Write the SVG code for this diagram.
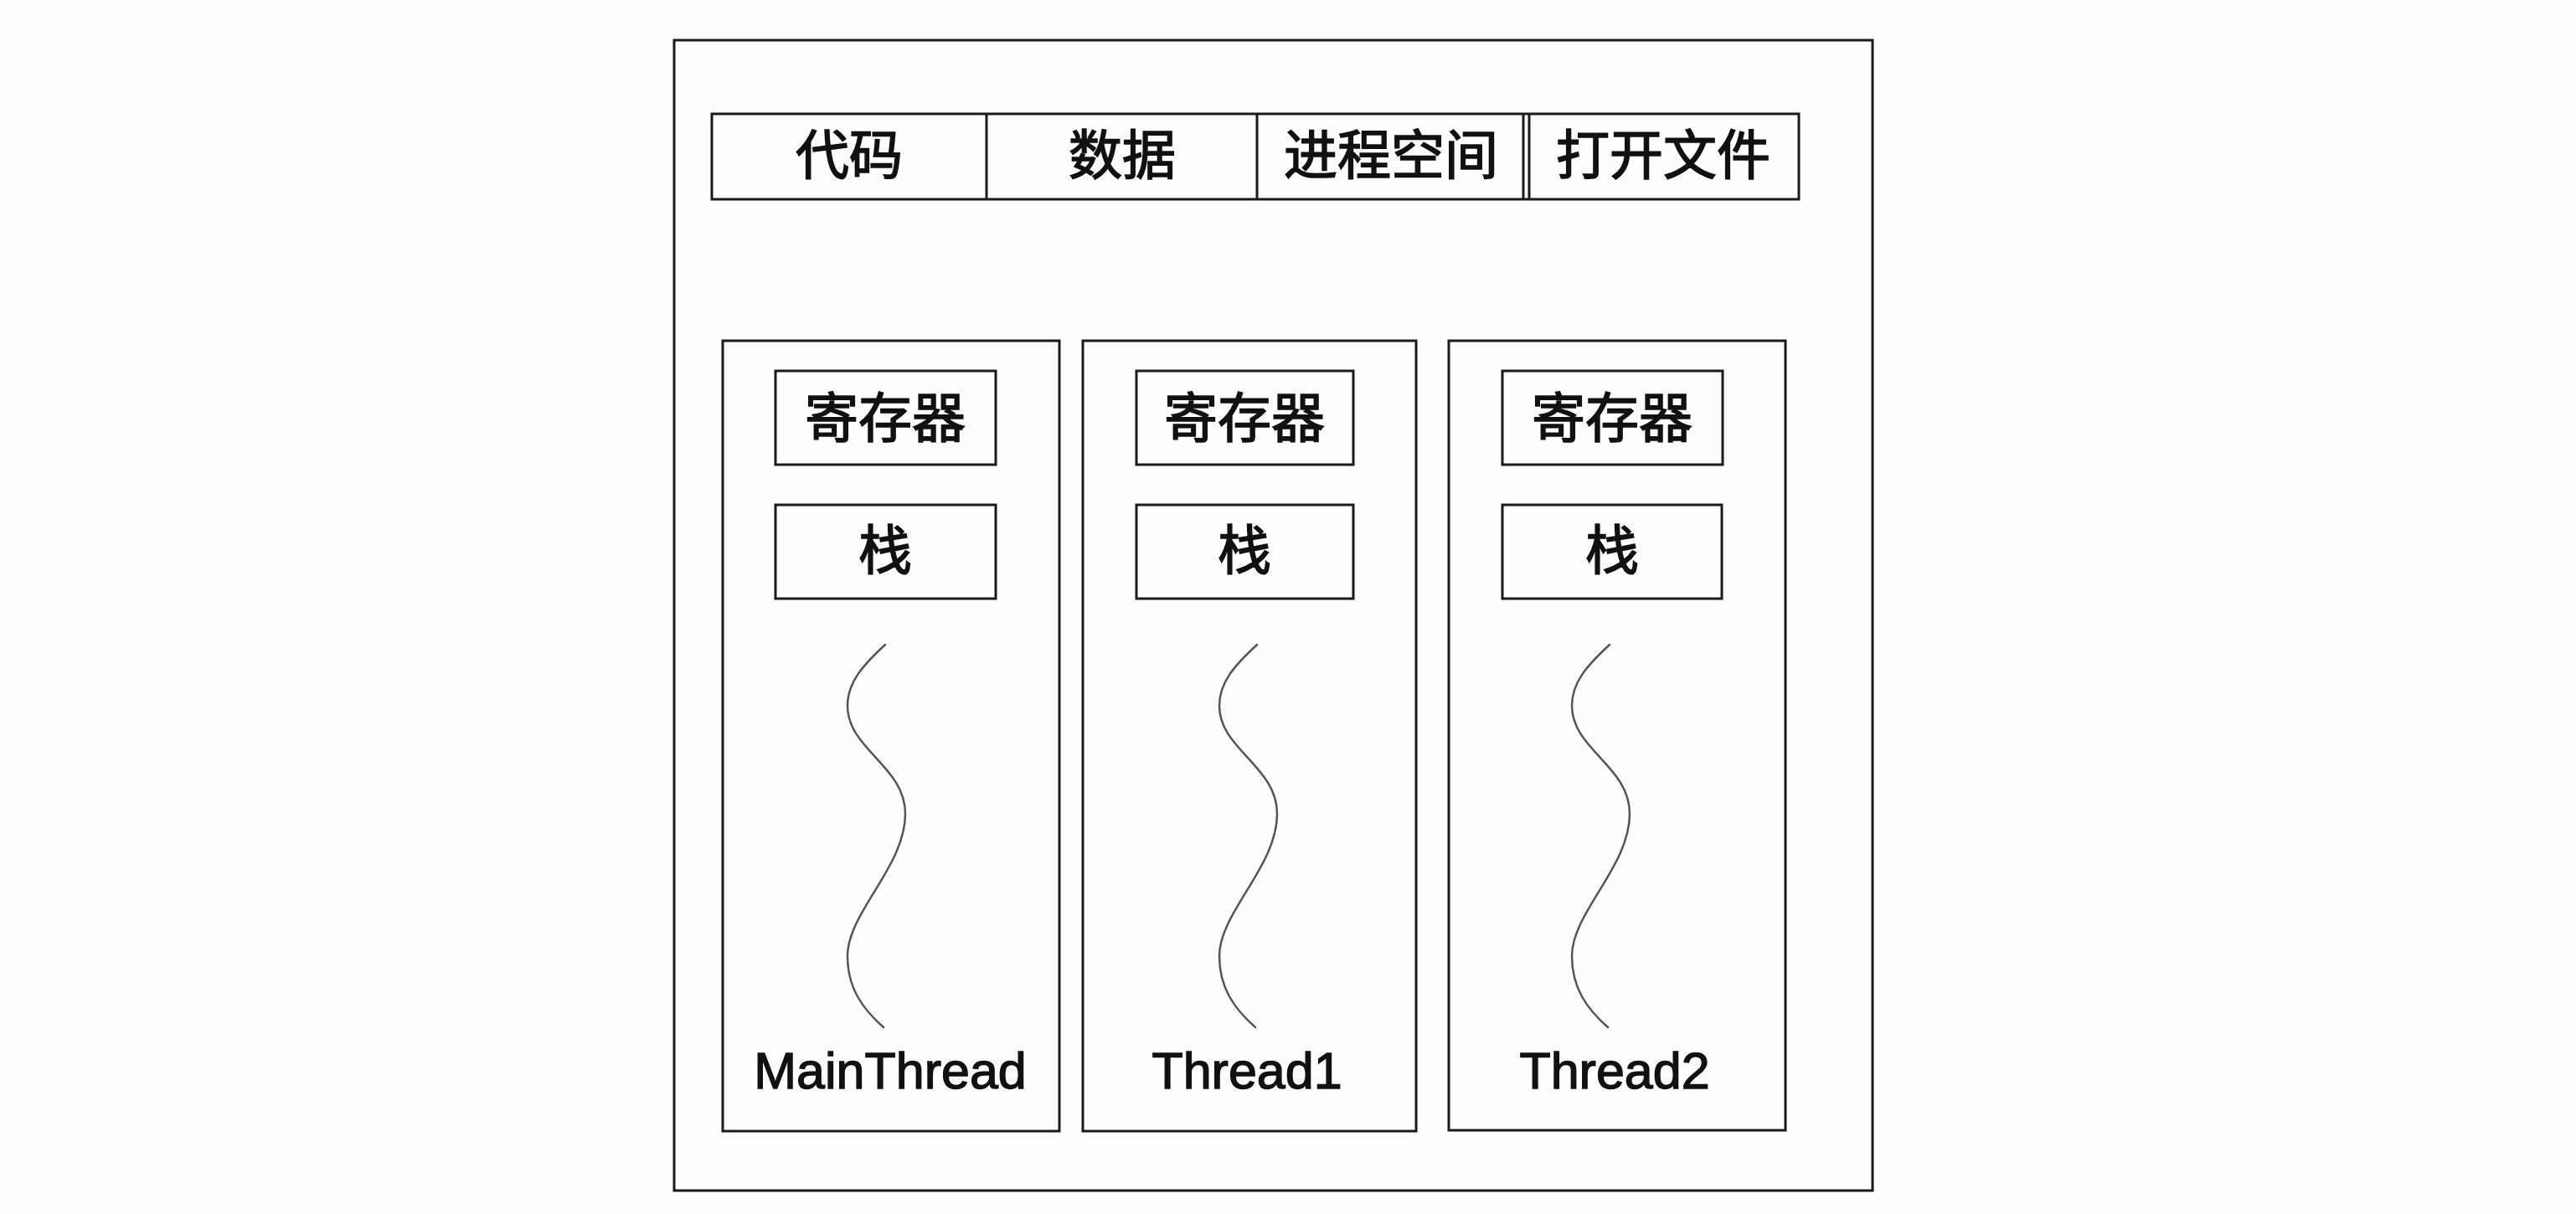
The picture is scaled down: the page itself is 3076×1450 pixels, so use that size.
<svg xmlns="http://www.w3.org/2000/svg" width="3076" height="1450" viewBox="0 0 3076 1450">
<defs>
<style>
.box{fill:none;stroke:#1a1a1a;stroke-width:3}
.cjk{font-family:"Noto Sans CJK SC","Liberation Sans",sans-serif;font-size:64px;fill:#111;stroke:#111;stroke-width:1.6;text-anchor:middle}
.lat{font-family:"Liberation Sans",Arial,sans-serif;font-size:61px;fill:#111;stroke:#111;stroke-width:1.4;text-anchor:middle}
.wave{fill:none;stroke:#555;stroke-width:2.5;stroke-linecap:round}
</style>
<path id="w" class="wave" d="M0,0 C-27,25 -45,45 -45,73 C-45,125 24,145 24,202 C24,265 -45,320 -45,372 C-45,410 -27,435 -2,457"/>
</defs>
<rect width="3076" height="1450" fill="#fdfdfd"/>
<g id="process">
<rect class="box" x="805" y="48" width="1431" height="1374"/>
</g>
<g id="shared">
<rect class="box" x="850" y="136" width="1298" height="102"/>
<line class="box" x1="1178" y1="136" x2="1178" y2="238"/>
<line class="box" x1="1501" y1="136" x2="1501" y2="238"/>
<line class="box" x1="1819" y1="136" x2="1819" y2="238"/>
<line class="box" x1="1826" y1="136" x2="1826" y2="238"/>
<text class="cjk" x="1014" y="208">代码</text>
<text class="cjk" x="1340" y="208">数据</text>
<text class="cjk" x="1661" y="208">进程空间</text>
<text class="cjk" x="1986" y="208">打开文件</text>
</g>
<g id="mainthread">
<rect class="box" x="863" y="407" width="402" height="944"/>
<rect class="box" x="926" y="443" width="263" height="112"/>
<text class="cjk" x="1057" y="522">寄存器</text>
<rect class="box" x="926" y="603" width="263" height="112"/>
<text class="cjk" x="1057" y="680">栈</text>
<use href="#w" x="1057" y="770"/>
<text class="lat" x="1063" y="1300">MainThread</text>
</g>
<g id="thread1">
<rect class="box" x="1293" y="407" width="398" height="944"/>
<rect class="box" x="1357" y="443" width="259" height="112"/>
<text class="cjk" x="1486" y="522">寄存器</text>
<rect class="box" x="1357" y="603" width="259" height="112"/>
<text class="cjk" x="1486" y="680">栈</text>
<use href="#w" x="1501" y="770"/>
<text class="lat" x="1489" y="1300">Thread1</text>
</g>
<g id="thread2">
<rect class="box" x="1730" y="407" width="402" height="943"/>
<rect class="box" x="1794" y="443" width="263" height="112"/>
<text class="cjk" x="1925" y="522">寄存器</text>
<rect class="box" x="1794" y="603" width="262" height="112"/>
<text class="cjk" x="1925" y="680">栈</text>
<use href="#w" x="1922" y="770"/>
<text class="lat" x="1928" y="1300">Thread2</text>
</g>
</svg>
